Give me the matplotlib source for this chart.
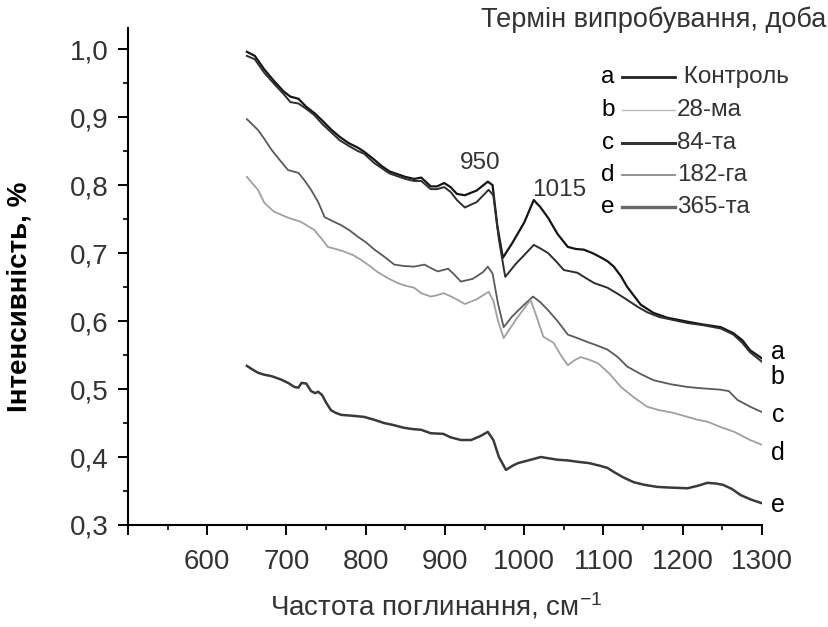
import matplotlib
matplotlib.use("Agg")
import matplotlib.pyplot as plt
from matplotlib.lines import Line2D
from matplotlib.ticker import MultipleLocator, FuncFormatter

plt.rcParams["font.family"] = ["Liberation Sans", "DejaVu Sans"]
plt.rcParams["mathtext.default"] = "regular"

# Curves (wavenumber, intensity)
a_x = [650, 660, 672, 685, 697, 705, 715, 725, 735, 745, 756, 767, 778, 790, 798, 810, 820, 830, 840, 850,
       861, 870, 882, 890, 899, 907, 915, 925, 940, 954, 960, 966, 973, 985, 1000, 1012, 1020, 1030, 1042, 1055,
       1065, 1075, 1086, 1096, 1105, 1113, 1122, 1130, 1147, 1163, 1180, 1206, 1225, 1248, 1264, 1275, 1285, 1300]
a_y = [0.996, 0.99, 0.97, 0.952, 0.937, 0.93, 0.927, 0.915, 0.906, 0.895, 0.882, 0.871, 0.862, 0.855, 0.849,
       0.838, 0.828, 0.82, 0.816, 0.812, 0.809, 0.811, 0.798, 0.798, 0.803, 0.797, 0.787, 0.785, 0.792, 0.805,
       0.80, 0.74, 0.693, 0.715, 0.745, 0.778, 0.768, 0.752, 0.728, 0.709, 0.706, 0.705, 0.700, 0.694, 0.688,
       0.680, 0.666, 0.650, 0.624, 0.612, 0.605, 0.599, 0.595, 0.591, 0.582, 0.572, 0.557, 0.545]

b_x = [650, 660, 672, 685, 697, 705, 715, 725, 735, 745, 756, 767, 778, 790, 798, 810, 820, 830, 840, 850,
       861, 870, 882, 890, 899, 907, 915, 925, 940, 955, 961, 968, 976, 990, 1000, 1012, 1020, 1030, 1040, 1050,
       1067, 1078, 1088, 1105, 1118, 1130, 1143, 1155, 1170, 1190, 1206, 1225, 1248, 1264, 1275, 1285, 1300]
b_y = [0.99, 0.985, 0.965, 0.948, 0.933, 0.922, 0.92, 0.912, 0.903, 0.89, 0.878, 0.866, 0.858, 0.85, 0.846,
       0.833, 0.825, 0.817, 0.813, 0.809, 0.806, 0.806, 0.794, 0.794, 0.797, 0.79, 0.778, 0.767, 0.775, 0.793,
       0.785, 0.72, 0.665, 0.685, 0.697, 0.712, 0.707, 0.700, 0.688, 0.675, 0.671, 0.663, 0.656, 0.649, 0.640,
       0.631, 0.621, 0.613, 0.606, 0.601, 0.597, 0.594, 0.589, 0.580, 0.568, 0.554, 0.540]

c_x = [650, 664, 672, 681, 692, 702, 715, 722, 731, 740, 748, 758, 769, 780, 790, 800, 811, 823, 836, 848,
       861, 874, 882, 891, 904, 912, 920, 935, 948, 954, 960, 967, 974, 985, 998, 1011, 1020, 1030, 1042, 1055,
       1067, 1080, 1092, 1105, 1118, 1130, 1147, 1163, 1185, 1206, 1225, 1248, 1258, 1269, 1285, 1300]
c_y = [0.897, 0.881, 0.868, 0.852, 0.836, 0.822, 0.818, 0.808, 0.793, 0.775, 0.753, 0.747, 0.741, 0.733, 0.724,
       0.716, 0.705, 0.695, 0.683, 0.681, 0.680, 0.683, 0.678, 0.673, 0.677, 0.668, 0.658, 0.662, 0.672, 0.680,
       0.670, 0.625, 0.591, 0.607, 0.622, 0.636, 0.628, 0.616, 0.600, 0.580, 0.575, 0.569, 0.564, 0.558, 0.547,
       0.533, 0.522, 0.513, 0.507, 0.503, 0.501, 0.499, 0.497, 0.484, 0.474, 0.466]

d_x = [650, 664, 672, 684, 702, 718, 735, 745, 752, 762, 773, 784, 794, 805, 815, 828, 840, 850, 861, 870,
       882, 890, 898, 908, 916, 925, 940, 955, 961, 967, 974, 990, 1008, 1016, 1024, 1037, 1046, 1055, 1063, 1071,
       1082, 1093, 1108, 1122, 1138, 1155, 1170, 1188, 1206, 1218, 1231, 1248, 1265, 1285, 1300]
d_y = [0.812, 0.793, 0.774, 0.761, 0.752, 0.746, 0.734, 0.72, 0.709, 0.706, 0.702, 0.697, 0.690, 0.681, 0.672,
       0.663, 0.656, 0.652, 0.649, 0.641, 0.636, 0.638, 0.641, 0.636, 0.631, 0.625, 0.632, 0.643, 0.63, 0.6,
       0.575, 0.603, 0.631, 0.605, 0.577, 0.568, 0.55, 0.535, 0.542, 0.547, 0.543, 0.538, 0.522, 0.503, 0.488,
       0.474, 0.469, 0.465, 0.459, 0.455, 0.452, 0.444, 0.437, 0.425, 0.418]

e_x = [650, 658, 664, 672, 681, 693, 702, 710, 715, 719, 725, 731, 736, 740, 745, 750, 756, 762, 769, 780,
       798, 810, 823, 835, 848, 860, 870, 882, 898, 907, 920, 933, 945, 954, 961, 968, 977, 985, 992, 1005,
       1021, 1042, 1055, 1067, 1082, 1096, 1105, 1113, 1125, 1138, 1152, 1168, 1185, 1206, 1220, 1231, 1242,
       1251, 1262, 1273, 1287, 1300]
e_y = [0.534, 0.528, 0.524, 0.521, 0.519, 0.514, 0.509, 0.503, 0.502, 0.509, 0.508, 0.497, 0.494, 0.496, 0.491,
       0.48, 0.469, 0.465, 0.462, 0.461, 0.459, 0.455, 0.450, 0.447, 0.443, 0.441, 0.440, 0.435, 0.434, 0.429,
       0.425, 0.425, 0.431, 0.437, 0.425, 0.40, 0.381, 0.387, 0.391, 0.395, 0.400, 0.396, 0.395, 0.393, 0.391,
       0.387, 0.384, 0.378, 0.370, 0.363, 0.359, 0.356, 0.355, 0.354, 0.358, 0.362, 0.361, 0.359, 0.353, 0.344,
       0.337, 0.332]

letters = ["a", "b", "c", "d", "e"]
series_labels = ["Контроль", "28-ма", "84-та", "182-га", "365-та"]
end_label_y = [0.555, 0.518, 0.462, 0.406, 0.330]
peaks = [(945, 0.833, "950"), (1044, 0.793, "1015")]

curves = [(a_x, a_y), (b_x, b_y), (c_x, c_y), (d_x, d_y), (e_x, e_y)]
curve_colors = ["#151515", "#2e2e2e", "#5a5a5a", "#a0a0a0", "#3a3a3a"]
curve_widths = [1.6, 1.4, 1.3, 1.3, 1.8]
legend_colors = ["#222222", "#bbbbbb", "#333333", "#8a8a8a", "#666666"]
legend_widths = [2.0, 1.0, 2.2, 1.3, 2.4]

W, H = 829, 627
fig = plt.figure(figsize=(W / 100, H / 100), dpi=100)
ax = fig.add_axes([128 / W, 1 - 525 / H, (762 - 128) / W, (525 - 28) / H])

for (xs, ys), col, lw in zip(curves, curve_colors, curve_widths):
    ax.plot(xs, ys, color=col, lw=lw, solid_joinstyle="round")

ax.set_xlim(500, 1300)
ax.set_ylim(0.3, 1.031)
ax.xaxis.set_major_locator(MultipleLocator(100))
ax.xaxis.set_minor_locator(MultipleLocator(50))
ax.yaxis.set_major_locator(MultipleLocator(0.1))
ax.yaxis.set_minor_locator(MultipleLocator(0.05))
ax.yaxis.set_major_formatter(FuncFormatter(lambda v, p: f"{v:.1f}".replace(".", ",")))
ax.xaxis.set_major_formatter(FuncFormatter(lambda v, p: "" if v < 550 else f"{v:.0f}"))

for s in ["top", "right"]:
    ax.spines[s].set_visible(False)
for s in ["left", "bottom"]:
    ax.spines[s].set_linewidth(1.5)
ax.tick_params(which="major", direction="out", length=7, width=1.4, labelsize=20,
               labelcolor="#333333")
ax.tick_params(axis="x", which="major", pad=10)
ax.tick_params(axis="y", which="major", pad=7)
ax.tick_params(which="minor", direction="out", length=3.5, width=1.2)

ax.set_ylabel("Інтенсивність, %", fontsize=20, fontweight="bold")
ax.yaxis.set_label_coords(-0.150, 0.459)
ax.set_xlabel("Частота поглинання, см$^{-1}$", fontsize=20, color="#333333")
ax.xaxis.set_label_coords(0.486, -0.132)

for y, letter in zip(end_label_y, letters):
    ax.text(1320, y, letter, fontsize=18, ha="center", va="center", clip_on=False)

for px, py, txt in peaks:
    ax.text(px, py, txt, fontsize=17.5, ha="center", va="center", color="#333333")

fig.text(826 / W, 1 - 20 / H, "Термін випробування, доба", fontsize=19.5,
         ha="right", va="center", color="#333333")

row_y = [77, 110, 143, 175, 207]
for ry, letter, lab, col, lw in zip(row_y, letters, series_labels, legend_colors, legend_widths):
    yf = 1 - ry / H
    fig.text(608 / W, yf, letter, fontsize=17.5, ha="center", va="center")
    fig.add_artist(Line2D([622 / W, 675 / W], [yf, yf], color=col, lw=lw))
    fig.text(677 / W, yf, (" " if lab == "Контроль" else "") + lab, fontsize=17.5,
             ha="left", va="center", color="#333333")

fig.savefig("out.png", dpi=100)
